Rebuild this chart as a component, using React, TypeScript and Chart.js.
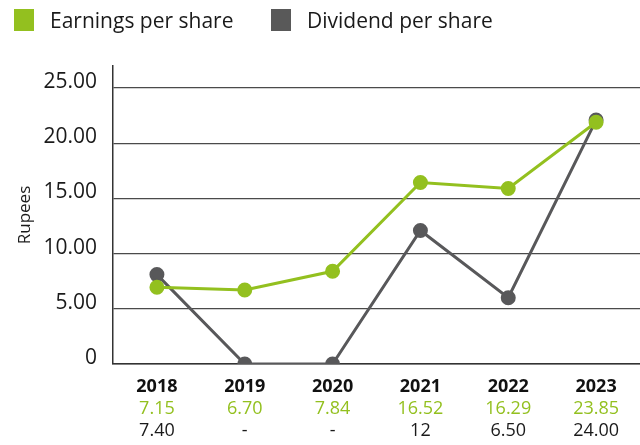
import React, { useEffect, useRef } from "react";
import { Chart, registerables } from "chart.js";

Chart.register(...registerables);

const years = ["2018", "2019", "2020", "2021", "2022", "2023"];
// plotted positions
const epsValues = [6.95, 6.7, 8.4, 16.45, 15.9, 21.9];
const dpsValues = [8.1, 0, 0, 12.1, 6.0, 22.1];
// table labels under the axis
const epsLabels = ["7.15", "6.70", "7.84", "16.52", "16.29", "23.85"];
const dpsLabels = ["7.40", "-", "-", "12", "6.50", "24.00"];
const yTickValues = [0, 5, 10, 15, 20, 25];

const GREEN = "#93c01f";
const DARK = "#58585a";
const FONT = "'Open Sans', 'DejaVu Sans', sans-serif";

const tablePlugin = {
  id: "yearTable",
  afterDraw(chart: any) {
    const ctx = chart.ctx;
    const xs = chart.scales.x;
    const base = chart.chartArea.bottom;
    ctx.save();
    ctx.textAlign = "center";
    ctx.textBaseline = "middle";
    years.forEach((yr, i) => {
      const x = xs.getPixelForValue(i);
      ctx.font = `bold 18px ${FONT}`;
      ctx.fillStyle = "#111";
      ctx.fillText(yr, x, base + 23);
      ctx.font = `18px ${FONT}`;
      ctx.fillStyle = GREEN;
      ctx.fillText(epsLabels[i], x, base + 45);
      ctx.fillStyle = "#1a1a1a";
      ctx.fillText(dpsLabels[i], x, base + 67);
    });
    ctx.restore();
  },
};

export default function App() {
  const ref = useRef<HTMLCanvasElement>(null);
  useEffect(() => {
    if (!ref.current) return;
    const chart = new Chart(ref.current, {
      type: "line",
      data: {
        labels: years,
        datasets: [
          {
            label: "Earnings per share",
            data: epsValues,
            borderColor: GREEN,
            backgroundColor: GREEN,
            pointBackgroundColor: GREEN,
            pointBorderColor: GREEN,
            borderWidth: 3,
            pointRadius: 6,
            tension: 0,
          },
          {
            label: "Dividend per share",
            data: dpsValues,
            borderColor: DARK,
            backgroundColor: DARK,
            pointBackgroundColor: DARK,
            pointBorderColor: DARK,
            borderWidth: 3,
            pointRadius: 6,
            tension: 0,
          },
        ],
      },
      options: {
        responsive: false,
        animation: false,
        layout: { autoPadding: false, padding: { top: 66, bottom: 81, right: 0, left: 0 } },
        plugins: {
          legend: { display: false },
          tooltip: { enabled: false },
        },
        scales: {
          x: {
            type: "category",
            offset: true,
            grid: { display: false, drawTicks: false },
            ticks: { display: false },
            border: { display: true, color: "#333", width: 1.5 },
          },
          y: {
            min: 0,
            max: 27,
            afterBuildTicks: (scale: any) => {
              scale.ticks = yTickValues.map((v) => ({ value: v }));
            },
            afterFit: (scale: any) => {
              scale.width = 113;
            },
            grid: { color: "#4a4a4a", lineWidth: 1.2, drawTicks: false },
            border: { display: true, color: "#333", width: 1.5 },
            ticks: {
              padding: 16,
              labelOffset: -6,
              color: "#1a1a1a",
              font: { family: FONT, size: 21, weight: "normal" as any },
              callback: (v: any) => (Number(v) === 0 ? "0" : Number(v).toFixed(2)),
            },
            title: {
              display: true,
              text: "Rupees",
              color: "#1a1a1a",
              font: { family: FONT, size: 17 },
              padding: { top: 15, bottom: 0 },
            },
          },
        },
      },
      plugins: [tablePlugin],
    });
    return () => chart.destroy();
  }, []);

  const legendItem = (color: string, text: string, left: number) => (
    <div
      style={{
        position: "absolute",
        left,
        top: 8,
        display: "flex",
        alignItems: "center",
        height: 24,
      }}
    >
      <div style={{ width: 20, height: 22, background: color, marginRight: 16 }} />
      <span
        style={{
          fontFamily: FONT,
          fontSize: 21,
          fontWeight: 400,
          color: "#1a1a1a",
          whiteSpace: "nowrap",
        }}
      >
        {text}
      </span>
    </div>
  );

  return (
    <div
      style={{
        position: "absolute",
        left: 0,
        top: 0,
        width: 640,
        height: 445,
        background: "#fff",
        overflow: "hidden",
      }}
    >
      <canvas ref={ref} width={640} height={445} style={{ position: "absolute", left: 0, top: 0 }} />
      {legendItem(GREEN, "Earnings per share", 14)}
      {legendItem("#595959", "Dividend per share", 271)}
    </div>
  );
}
